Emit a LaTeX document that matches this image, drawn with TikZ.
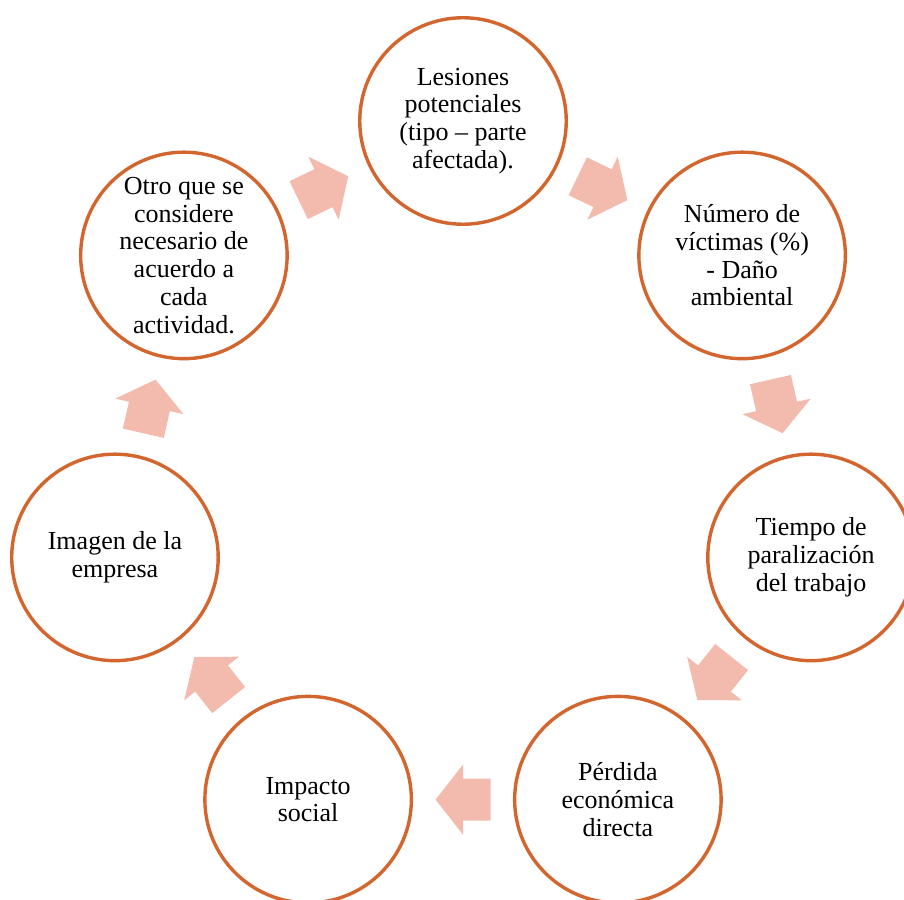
\documentclass[tikz,border=0pt]{standalone}
\usepackage{fontspec}
\setmainfont{Liberation Serif}
\usetikzlibrary{calc}
\definecolor{ringc}{RGB}{211,102,47}
\definecolor{arrowc}{RGB}{243,187,173}
\tikzset{
  x=1pt, y=1pt,
  stage/.style={circle, draw=ringc, line width=3.4pt, fill=white,
    minimum size=206.5pt, inner sep=0pt, align=center, text=black,
    font=\fontsize{26}{27.7}\selectfont},
  blockarrow/.style={fill=arrowc, draw=none}
}
\begin{document}
\begin{tikzpicture}
\useasboundingbox (0,0) rectangle (904,899);
\clip (0,0) rectangle (904,899);
\coordinate (ctr) at (463,421);
\node[stage] (n1) at ($(ctr)+(90:357)$) {Lesiones\\potenciales\\(tipo – parte\\afectada).};
\node[stage] (n2) at ($(ctr)+(38.571:357)$) {Número de\\víctimas (\%)\\- Daño\\ambiental};
\node[stage] (n3) at ($(ctr)+(-12.857:357)$) {Tiempo de\\paralización\\del trabajo};
\node[stage] (n4) at ($(ctr)+(-64.286:357)$) {Pérdida\\económica\\directa};
\node[stage] (n5) at ($(ctr)+(-115.714:357)$) {Impacto\\social};
\node[stage] (n6) at ($(ctr)+(-167.143:357)$) {Imagen de la\\empresa};
\node[stage] (n7) at ($(ctr)+(141.429:357)$) {Otro que se\\considere\\necesario de\\acuerdo a\\cada\\actividad.};
\foreach \a/\b [count=\i from 0] in {n1/n2,n2/n3,n3/n4,n4/n5,n5/n6,n6/n7,n7/n1}{
  \pgfmathsetmacro{\rot}{-360/7*(\i+0.5)}
  \begin{scope}[shift={($(\a)!0.5!(\b)$)}, rotate=\rot]
    \fill[blockarrow] (27.5,0) -- (0,35) -- (0,21) -- (-27.5,21) -- (-27.5,-21) -- (0,-21) -- (0,-35) -- cycle;
  \end{scope}
}
\end{tikzpicture}
\end{document}
